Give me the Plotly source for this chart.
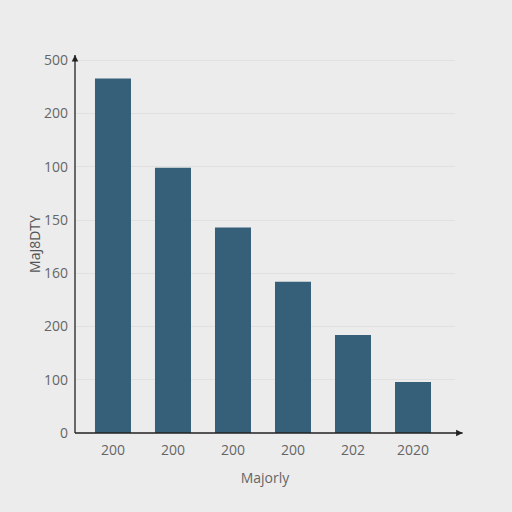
import plotly.graph_objects as go

categories = ["200", "200", "200", "200", "202", "2020"]
values = [333, 249, 193, 142, 92, 48]
y_tick_vals = [0, 50, 100, 150, 200, 250, 300, 350]
y_tick_text = ["0", "100", "200", "160", "150", "100", "200", "500"]
x_title = "Majorly"
y_title = "MaJ8DTY"

x_pos = list(range(len(categories)))

fig = go.Figure()
fig.add_trace(go.Bar(
    x=x_pos, y=values, width=0.6,
    marker=dict(color="#365f7a", line=dict(width=0)),
))

fig.update_layout(
    width=512, height=512,
    margin=dict(l=75, r=57, t=55, b=79),
    paper_bgcolor="#ececec", plot_bgcolor="#ececec",
    showlegend=False,
    font=dict(family="Open Sans", color="#666666", size=14),
    bargap=0.4,
)
fig.update_xaxes(
    range=[-0.633, 5.7], tickvals=x_pos, ticktext=categories,
    showgrid=False, zeroline=False, showline=False,
    ticks="", ticklabelstandoff=7,
    title=dict(text=x_title, font=dict(size=14, color="#666666"), standoff=15),
)
fig.update_yaxes(
    range=[0, 355], tickvals=y_tick_vals, ticktext=y_tick_text,
    showgrid=True, gridcolor="#e0e0e0", gridwidth=1, zeroline=False,
    showline=False, ticks="", ticklabelstandoff=6,
    title=dict(text=y_title, font=dict(size=14, color="#555555"), standoff=0),
)
# axes with arrows
fig.add_shape(type="line", xref="paper", yref="paper", x0=0, x1=1.02, y0=0, y1=0,
              line=dict(color="#222222", width=1.3))
fig.add_shape(type="line", xref="paper", yref="paper", x0=0, x1=0, y0=0, y1=1.0,
              line=dict(color="#222222", width=1.3))
fig.add_annotation(x=1.02, y=0, xref="paper", yref="paper", ax=-8, ay=0,
                   showarrow=True, arrowhead=2, arrowsize=1, arrowwidth=1.3,
                   arrowcolor="#222222", text="")
fig.add_annotation(x=0, y=1.0, xref="paper", yref="paper", ax=0, ay=8,
                   showarrow=True, arrowhead=2, arrowsize=1, arrowwidth=1.3,
                   arrowcolor="#222222", text="")

fig.write_html(
    "out.html",
    config={"displayModeBar": False},
    post_script="document.body.style.margin='0';document.body.style.background='#ececec';",
)
